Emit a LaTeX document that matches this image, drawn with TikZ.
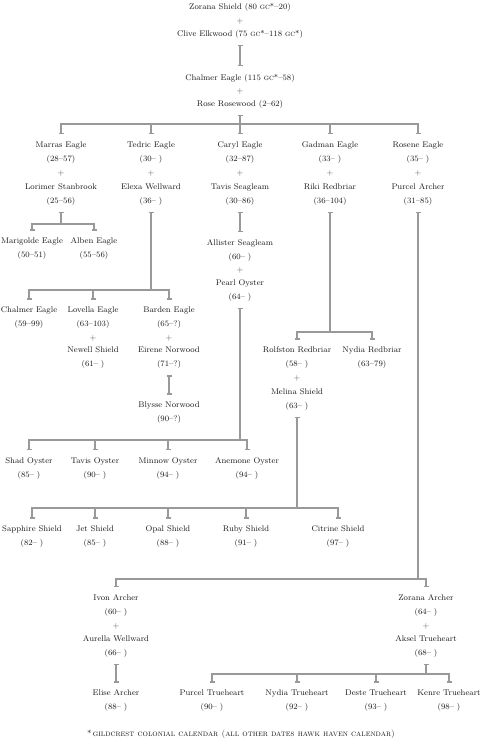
\documentclass[tikz,border=0pt]{standalone}
\usepackage{fontspec}
\usetikzlibrary{arrows.meta, positioning}
\tikzset{
    person/.style={align=center, inner sep=2pt, outer sep=4.5pt, text=black!90, font=\fontsize{8.2}{14}\selectfont},
    plus/.style={inner sep=1pt, text=black!65, font=\fontsize{8.2}{14}\selectfont},
    stem/.style={draw=black!40, line width=1.2pt, {Bar[width=5pt]}-},
    kin/.style={draw=black!40, line width=1.2pt, -{Bar[width=5pt]}, shorten >=1pt},
    link/.style={draw=black!40, line width=1.2pt, {Bar[width=5pt]}-{Bar[width=5pt]}, shorten >=1pt},
    note/.style={inner sep=0pt, text=black!90, font=\fontsize{8.5}{9}\selectfont}
}

\begin{document}
\begin{tikzpicture}[x=1pt, y=-1pt]
    \useasboundingbox (0,0) rectangle (481,751);

    % first generations
    \node [person] (zorshield) at (240,7) {Zorana Shield (80 \textsc{gc}*--20)};
    \node [plus] (p0) at (240,21) {+};
    \node [person] (clive) at (240,34) {Clive Elkwood (75 \textsc{gc}*--118 \textsc{gc}*)};
    \node [person] (chalmer) at (240,78) {Chalmer Eagle (115 \textsc{gc}*--58)};
    \node [plus] (p1) at (240,91) {+};
    \node [person] (rose) at (240,104) {Rose Rosewood (2--62)};

    \node [person] (marras) at (61,152.5) {Marras Eagle\\(28--57)};
    \node [plus] (p2) at (61,173) {+};
    \node [person] (lorimer) at (61,194.5) {Lorimer Stanbrook\\(25--56)};
    \node [person] (tedric) at (151,152.5) {Tedric Eagle\\(30-- )};
    \node [plus] (p3) at (151,173) {+};
    \node [person] (elexa) at (151,194.5) {Elexa Wellward\\(36-- )};
    \node [person] (caryl) at (240,152.5) {Caryl Eagle\\(32--87)};
    \node [plus] (p4) at (240,173) {+};
    \node [person] (tavis) at (240,194.5) {Tavis Seagleam\\(30--86)};
    \node [person] (gadman) at (330,152.5) {Gadman Eagle\\(33-- )};
    \node [plus] (p5) at (330,173) {+};
    \node [person] (riki) at (330,194.5) {Riki Redbriar\\(36--104)};
    \node [person] (rosene) at (418,152.5) {Rosene Eagle\\(35-- )};
    \node [plus] (p6) at (418,173) {+};
    \node [person] (purcel) at (418,194.5) {Purcel Archer\\(31--85)};

    % third generation
    \node [person] (marigolde) at (32,249) {Marigolde Eagle\\(50--51)};
    \node [person] (alben) at (94,249) {Alben Eagle\\(55--56)};
    \node [person] (allister) at (240,250.5) {Allister Seagleam\\(60-- )};
    \node [plus] (p7) at (240,270) {+};
    \node [person] (pearl) at (240,290.5) {Pearl Oyster\\(64-- )};

    \node [person] (chalmer2) at (29,318) {Chalmer Eagle\\(59--99)};
    \node [person] (lovella) at (93,318) {Lovella Eagle\\(63--103)};
    \node [plus] (p8) at (93,338) {+};
    \node [person] (newell) at (93,358) {Newell Shield\\(61-- )};
    \node [person] (barden) at (169,318) {Barden Eagle\\(65--?)};
    \node [plus] (p9) at (169,338) {+};
    \node [person] (eirene) at (169,358) {Eirene Norwood\\(71--?)};
    \node [person] (blysse) at (169,413) {Blysse Norwood\\(90--?)};

    \node [person] (rolfston) at (297,358) {Rolfston Redbriar\\(58-- )};
    \node [plus] (p10) at (297,378) {+};
    \node [person] (melina) at (297,399.5) {Melina Shield\\(63-- )};
    \node [person] (nydia) at (372,358) {Nydia Redbriar\\(63--79)};

    % oysters and shields
    \node [person] (shad) at (29,468.5) {Shad Oyster\\(85-- )};
    \node [person] (tavisoy) at (95,468.5) {Tavis Oyster\\(90-- )};
    \node [person] (minnow) at (168,468.5) {Minnow Oyster\\(94-- )};
    \node [person] (anemone) at (247,468.5) {Anemone Oyster\\(94-- )};

    \node [person] (sapphire) at (32,537) {Sapphire Shield\\(82-- )};
    \node [person] (jet) at (95,537) {Jet Shield\\(85-- )};
    \node [person] (opal) at (168,537) {Opal Shield\\(88-- )};
    \node [person] (ruby) at (246,537) {Ruby Shield\\(91-- )};
    \node [person] (citrine) at (338,537) {Citrine Shield\\(97-- )};

    % archers
    \node [person] (ivon) at (116,605.5) {Ivon Archer\\(60-- )};
    \node [plus] (p11) at (116,626) {+};
    \node [person] (aurella) at (116,646.5) {Aurella Wellward\\(66-- )};
    \node [person] (elise) at (116,701) {Elise Archer\\(88-- )};
    \node [person] (zorarcher) at (426,605.5) {Zorana Archer\\(64-- )};
    \node [plus] (p12) at (426,626) {+};
    \node [person] (aksel) at (426,646.5) {Aksel Trueheart\\(68-- )};

    \node [person] (purcel2) at (212,701) {Purcel Trueheart\\(90-- )};
    \node [person] (nydiatr) at (297,701) {Nydia Trueheart\\(92-- )};
    \node [person] (deste) at (376,701) {Deste Trueheart\\(93-- )};
    \node [person] (kenre) at (449,701) {Kenre Trueheart\\(98-- )};

    \node [note] (footnote) at (241,734) {*\,{\scshape\addfontfeatures{LetterSpace=20}gildcrest colonial calendar (all other dates hawk haven calendar)}};

    % junctions
    \coordinate (jrose) at (rose.south |- 0,124);
    \coordinate (jlorimer) at (lorimer.south |- 0,224);
    \coordinate (jelexa) at (elexa.south |- 0,290);
    \coordinate (jriki) at (riki.south |- 0,332);
    \coordinate (jpearl) at (pearl.south |- 0,440);
    \coordinate (jmelina) at (melina.south |- 0,508);
    \coordinate (jpurcel) at (purcel.south |- 0,579);
    \coordinate (jaksel) at (aksel.south |- 0,674);

    % single lines
    \draw [link] (clive) -- (chalmer);
    \draw [link] (tavis) -- (allister);
    \draw [link] (eirene) -- (blysse);
    \draw [link] (aurella) -- (elise);

    % branching lines
    \draw [stem] (rose) -- (jrose);
    \foreach \c in {marras, tedric, caryl, gadman, rosene}
        \draw [kin] (jrose) -| (\c.north);
    \draw [stem] (lorimer) -- (jlorimer);
    \foreach \c in {marigolde, alben}
        \draw [kin] (jlorimer) -| (\c.north);
    \draw [stem] (elexa) -- (jelexa);
    \foreach \c in {chalmer2, lovella, barden}
        \draw [kin] (jelexa) -| (\c.north);
    \draw [stem] (riki) -- (jriki);
    \foreach \c in {rolfston, nydia}
        \draw [kin] (jriki) -| (\c.north);
    \draw [stem] (pearl) -- (jpearl);
    \foreach \c in {shad, tavisoy, minnow, anemone}
        \draw [kin] (jpearl) -| (\c.north);
    \draw [stem] (melina) -- (jmelina);
    \foreach \c in {sapphire, jet, opal, ruby, citrine}
        \draw [kin] (jmelina) -| (\c.north);
    \draw [stem] (purcel) -- (jpurcel);
    \foreach \c in {ivon, zorarcher}
        \draw [kin] (jpurcel) -| (\c.north);
    \draw [stem] (aksel) -- (jaksel);
    \foreach \c in {purcel2, nydiatr, deste, kenre}
        \draw [kin] (jaksel) -| (\c.north);
\end{tikzpicture}
\end{document}
